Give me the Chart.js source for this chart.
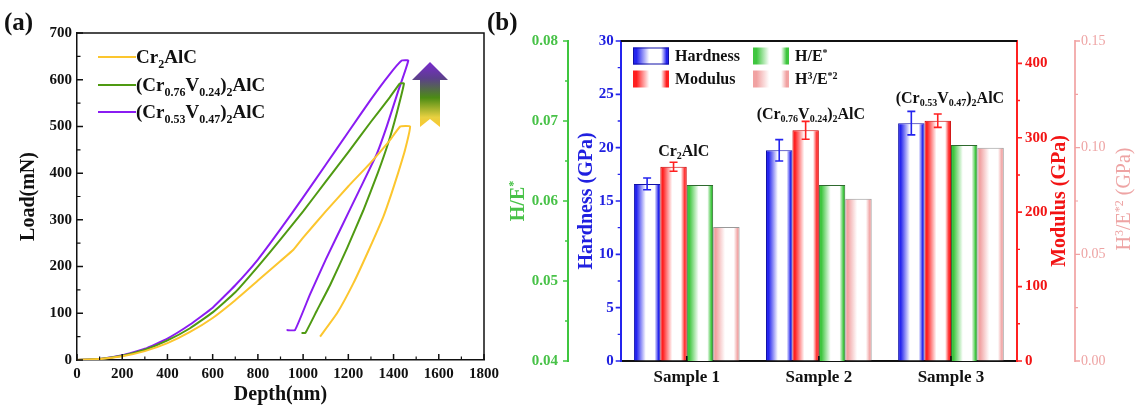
<!DOCTYPE html>
<html>
<head>
<meta charset="utf-8">
<script src="https://cdn.jsdelivr.net/npm/chart.js@4/dist/chart.umd.min.js"></script>
<style>
  html, body { margin: 0; padding: 0; background: #fff; }
  #wrap { position: relative; width: 1140px; height: 407px; overflow: hidden; }
  #chartA { position: absolute; left: 0; top: 0; }
  #chartB { position: absolute; left: 484px; top: 0; }
</style>
</head>
<body>
<div id="wrap">
  <canvas id="chartA" width="510" height="407"></canvas>
  <canvas id="chartB" width="656" height="407"></canvas>
</div>
<script>
// ---------- panel (a): load-depth curves ----------
const depthCr2 = [0, 100, 200, 300, 400, 500, 600, 700, 800, 900, 957, 1000, 1100, 1200, 1296, 1380, 1430, 1473, 1451, 1420, 1390, 1355, 1290, 1222, 1150, 1075];
const loadCr2  = [0, 2, 8, 19, 36, 60, 90, 128, 170, 212, 236, 262, 318, 372, 421, 468, 500, 500, 450, 400, 355, 307, 235, 164, 100, 50];

const depthV24 = [0, 100, 200, 300, 400, 500, 600, 700, 800, 900, 1000, 1100, 1200, 1300, 1380, 1428, 1446, 1415, 1380, 1330, 1266, 1195, 1119, 1060, 1010, 993];
const loadV24  = [0, 2, 9, 22, 42, 68, 102, 145, 200, 258, 318, 382, 445, 510, 560, 592, 592, 530, 470, 400, 320, 240, 160, 105, 58, 58];

const depthV47 = [0, 100, 200, 300, 400, 500, 600, 700, 800, 900, 1000, 1100, 1200, 1300, 1380, 1436, 1465, 1420, 1370, 1325, 1245, 1175, 1100, 1030, 964, 927];
const loadV47  = [0, 2, 10, 24, 46, 76, 112, 160, 215, 280, 348, 418, 488, 558, 610, 641, 641, 575, 500, 440, 360, 290, 215, 140, 64, 64];

const curveNames = ['Cr_{2}AlC', '(Cr_{0.76}V_{0.24})_{2}AlC', '(Cr_{0.53}V_{0.47})_{2}AlC'];
const depthTicks = [0, 200, 400, 600, 800, 1000, 1200, 1400, 1600, 1800];
const loadTicks = [0, 100, 200, 300, 400, 500, 600, 700];

// ---------- panel (b): mechanical properties ----------
const samples = ['Sample 1', 'Sample 2', 'Sample 3'];
const sampleNames = ['Cr_{2}AlC', '(Cr_{0.76}V_{0.24})_{2}AlC', '(Cr_{0.53}V_{0.47})_{2}AlC'];
const hardness = [16.6, 19.75, 22.3];
const hardnessErr = [0.55, 1.0, 1.1];
const modulus = [261, 310, 323];
const modulusErr = [6, 12, 9];
const hOverE = [0.0620, 0.0620, 0.0670];
const h3OverE2 = [0.0628, 0.0761, 0.1000];

const hardnessTicks = [0, 5, 10, 15, 20, 25, 30];
const modulusTicks = [0, 100, 200, 300, 400];
const hOverETicks = [0.04, 0.05, 0.06, 0.07, 0.08];
const h3Ticks = [0, 0.05, 0.10, 0.15];

// ---------- styles ----------
const serif = "'Liberation Serif', 'Times New Roman', serif";
const YELLOW = '#fcc62e', OLIVE = '#4f9a12', VIOLET = '#8a1cf2';
const BLUE = '#2424ee', RED = '#ff2020', GREEN = '#3fc63f', PINK = '#f1a2a2';
const BLUE_TXT = '#2020e0', RED_TXT = '#f21414', GREEN_TXT = '#48c248', PINK_TXT = '#eea4a4';

const pts = (xs, ys) => xs.map((x, i) => ({ x: x, y: ys[i] }));
const asTicks = (vals) => (scale) => { scale.ticks = vals.map(v => ({ value: v })); };
const fixSize = (w, h) => (scale) => {
  if (w != null) scale.width = w;
  if (h != null) scale.height = h;
  scale.paddingLeft = scale.paddingRight = scale.paddingTop = scale.paddingBottom = 0;
};
const midpoints = (vals) => vals.slice(1).map((v, i) => (v + vals[i]) / 2);

// text with _{sub} and ^{sup}
function parseRich(str) {
  const segs = [];
  let buf = '', i = 0;
  while (i < str.length) {
    const c = str[i];
    if ((c === '_' || c === '^') && str[i + 1] === '{') {
      if (buf) { segs.push({ t: buf, m: 0 }); buf = ''; }
      const end = str.indexOf('}', i);
      segs.push({ t: str.slice(i + 2, end), m: c === '_' ? 1 : -1 });
      i = end + 1;
    } else { buf += c; i++; }
  }
  if (buf) segs.push({ t: buf, m: 0 });
  return segs;
}

function richText(ctx, str, x, y, size, opt) {
  opt = opt || {};
  const weight = opt.weight || 'bold';
  const segs = parseRich(str);
  const fontFor = (sg) => `${weight} ${sg.m ? Math.round(size * 0.62) : size}px ${serif}`;
  let w = 0;
  segs.forEach(sg => { ctx.font = fontFor(sg); sg.w = ctx.measureText(sg.t).width; w += sg.w; });
  ctx.save();
  ctx.translate(x, y);
  if (opt.rotate) ctx.rotate(opt.rotate);
  let cx = opt.align === 'center' ? -w / 2 : 0;
  ctx.fillStyle = opt.color || '#111';
  ctx.textAlign = 'left';
  ctx.textBaseline = 'alphabetic';
  const base = size * 0.34;
  segs.forEach(sg => {
    ctx.font = fontFor(sg);
    const dy = sg.m === 1 ? size * 0.22 : (sg.m === -1 ? -size * 0.36 : 0);
    ctx.fillText(sg.t, cx, base + dy);
    cx += sg.w;
  });
  ctx.restore();
}

function tickMarks(ctx, scale, values, len, side, color, lw) {
  ctx.save();
  ctx.strokeStyle = color;
  ctx.lineWidth = lw;
  ctx.beginPath();
  values.forEach(v => {
    const p = scale.getPixelForValue(v);
    if (scale.isHorizontal()) {
      ctx.moveTo(p, scale.top); ctx.lineTo(p, scale.top + side * len);
    } else {
      const x0 = scale.position === 'left' ? scale.right : scale.left;
      ctx.moveTo(x0, p); ctx.lineTo(x0 + side * len, p);
    }
  });
  ctx.stroke();
  ctx.restore();
}

function barGradient(ctx, left, width, color) {
  const g = ctx.createLinearGradient(left, 0, left + width, 0);
  g.addColorStop(0, color);
  g.addColorStop(0.1, color);
  g.addColorStop(0.45, '#ffffff');
  g.addColorStop(0.78, '#ffffff');
  g.addColorStop(0.93, color);
  g.addColorStop(1, color);
  return g;
}

// ---------- panel (a) ----------
const panelA = {
  id: 'panelA',
  afterDraw(chart) {
    const { ctx, chartArea: a, scales: { x, y } } = chart;
    ctx.save();
    ctx.strokeStyle = '#111';
    ctx.lineWidth = 1.5;
    ctx.beginPath();
    ctx.moveTo(a.left, a.top); ctx.lineTo(a.right, a.top); ctx.lineTo(a.right, a.bottom);
    ctx.stroke();
    ctx.restore();

    tickMarks(ctx, x, depthTicks, 6, -1, '#111', 1.5);
    tickMarks(ctx, x, midpoints(depthTicks), 3.5, -1, '#111', 1.2);
    tickMarks(ctx, y, loadTicks, 6, 1, '#111', 1.5);
    tickMarks(ctx, y, midpoints(loadTicks), 3.5, 1, '#111', 1.2);

    richText(ctx, 'Load(mN)', 27, (a.top + a.bottom) / 2, 20, { align: 'center', rotate: -Math.PI / 2 });
    richText(ctx, 'Depth(nm)', (a.left + a.right) / 2, 393, 20, { align: 'center' });
    richText(ctx, '(a)', 4, 21, 25, {});

    // legend
    const colors = [YELLOW, OLIVE, VIOLET];
    const rows = [57, 85, 112];
    curveNames.forEach((name, i) => {
      ctx.save();
      ctx.strokeStyle = colors[i];
      ctx.lineWidth = 2;
      ctx.beginPath(); ctx.moveTo(98, rows[i]); ctx.lineTo(136, rows[i]); ctx.stroke();
      ctx.restore();
      richText(ctx, name, 136, rows[i], 19, {});
    });

    // gradient arrow
    const cx = 430, top = 62, headY = 80, bottom = 127;
    const g = ctx.createLinearGradient(0, top, 0, bottom);
    g.addColorStop(0, '#7a2ad0');
    g.addColorStop(0.25, '#5c3f8c');
    g.addColorStop(0.55, '#4c8c14');
    g.addColorStop(0.85, '#e8d040');
    g.addColorStop(1, '#fcc830');
    ctx.save();
    ctx.fillStyle = g;
    ctx.beginPath();
    ctx.moveTo(cx, top);
    ctx.lineTo(cx + 18, headY);
    ctx.lineTo(cx + 10, headY);
    ctx.lineTo(cx + 10, bottom);
    ctx.lineTo(cx, bottom - 8);
    ctx.lineTo(cx - 10, bottom);
    ctx.lineTo(cx - 10, headY);
    ctx.lineTo(cx - 18, headY);
    ctx.closePath();
    ctx.fill();
    ctx.restore();
  }
};

const lineSet = (label, xs, ys, color) => ({
  label: label, data: pts(xs, ys), borderColor: color, borderWidth: 2,
  pointRadius: 0, tension: 0.12, fill: false
});

new Chart(document.getElementById('chartA'), {
  type: 'line',
  data: {
    datasets: [
      lineSet('Cr2AlC', depthCr2, loadCr2, YELLOW),
      lineSet('(Cr0.76V0.24)2AlC', depthV24, loadV24, OLIVE),
      lineSet('(Cr0.53V0.47)2AlC', depthV47, loadV47, VIOLET)
    ]
  },
  options: {
    responsive: false,
    animation: false,
    events: [],
    layout: { padding: { top: 33, right: 26, left: 0, bottom: 0 } },
    plugins: { legend: { display: false }, tooltip: { enabled: false } },
    scales: {
      x: {
        type: 'linear', min: 0, max: 1800,
        afterBuildTicks: asTicks(depthTicks),
        afterFit: fixSize(null, 47),
        grid: { drawOnChartArea: false, drawTicks: false },
        border: { color: '#111', width: 1.5 },
        ticks: { font: { family: serif, weight: 'bold', size: 15 }, color: '#111', padding: 5, maxRotation: 0, autoSkip: false, callback: v => String(v) }
      },
      y: {
        type: 'linear', min: 0, max: 700,
        afterBuildTicks: asTicks(loadTicks),
        afterFit: fixSize(77, null),
        grid: { drawOnChartArea: false, drawTicks: false },
        border: { color: '#111', width: 1.5 },
        ticks: { font: { family: serif, weight: 'bold', size: 15 }, color: '#111', padding: 5, autoSkip: false, callback: v => String(v) }
      }
    }
  },
  plugins: [panelA]
});

// ---------- panel (b) ----------
const barColors = [BLUE, RED, GREEN, PINK];
const errors = [hardnessErr, modulusErr, null, null];
const errColors = [BLUE, RED];
const labelAt = [19.75, 23.2, 24.7];   // annotation heights on the hardness axis
const labelShift = [-3, -8, -1];

const panelB = {
  id: 'panelB',
  beforeDatasetsDraw(chart) {
    const ctx = chart.ctx;
    chart.data.datasets.forEach((ds, di) => {
      chart.getDatasetMeta(di).data.forEach(el => {
        const p = el.getProps(['x', 'width'], true);
        el.options = Object.assign({}, el.options, {
          backgroundColor: barGradient(ctx, p.x - p.width / 2, p.width, barColors[di])
        });
      });
    });
  },
  afterDatasetsDraw(chart) {
    const ctx = chart.ctx;
    [0, 1].forEach(di => {
      const ds = chart.data.datasets[di];
      const sc = chart.scales[ds.yAxisID];
      ctx.save();
      ctx.strokeStyle = errColors[di];
      ctx.lineWidth = 1.6;
      chart.getDatasetMeta(di).data.forEach((el, i) => {
        const yt = sc.getPixelForValue(ds.data[i] + errors[di][i]);
        const yb = sc.getPixelForValue(ds.data[i] - errors[di][i]);
        ctx.beginPath();
        ctx.moveTo(el.x, yt); ctx.lineTo(el.x, yb);
        ctx.moveTo(el.x - 4, yt); ctx.lineTo(el.x + 4, yt);
        ctx.moveTo(el.x - 4, yb); ctx.lineTo(el.x + 4, yb);
        ctx.stroke();
      });
      ctx.restore();
    });
  },
  afterDraw(chart) {
    const { ctx, chartArea: a, scales: s } = chart;
    ctx.save();
    ctx.strokeStyle = '#111';
    ctx.lineWidth = 2;
    ctx.beginPath(); ctx.moveTo(a.left, a.top); ctx.lineTo(a.right, a.top); ctx.stroke();
    ctx.restore();

    tickMarks(ctx, s.yH, hardnessTicks, 5, -1, BLUE, 1.6);
    tickMarks(ctx, s.yH, midpoints(hardnessTicks), 3, -1, BLUE, 1.4);
    tickMarks(ctx, s.yHE, hOverETicks, 5, -1, GREEN, 1.6);
    tickMarks(ctx, s.yHE, midpoints(hOverETicks), 3, -1, GREEN, 1.4);
    tickMarks(ctx, s.yM, modulusTicks, 5, 1, RED, 1.6);
    tickMarks(ctx, s.yM, midpoints(modulusTicks), 3, 1, RED, 1.4);
    tickMarks(ctx, s.yH3, h3Ticks, 5, 1, PINK, 1.4);
    tickMarks(ctx, s.yH3, midpoints(h3Ticks), 3, 1, PINK, 1.2);
    tickMarks(ctx, s.x, [0, 1, 2], 5, -1, '#111', 1.6);

    const midY = (a.top + a.bottom) / 2;
    richText(ctx, 'H/E^{*}', 33, midY, 20, { align: 'center', rotate: -Math.PI / 2, color: GREEN_TXT });
    richText(ctx, 'Hardness (GPa)', 101, midY, 20, { align: 'center', rotate: -Math.PI / 2, color: BLUE_TXT });
    richText(ctx, 'Modulus (GPa)', 574, midY, 20, { align: 'center', rotate: -Math.PI / 2, color: RED_TXT });
    richText(ctx, 'H^{3}/E^{*2} (GPa)', 639, midY - 2, 20, { align: 'center', rotate: -Math.PI / 2, color: PINK_TXT, weight: 'normal' });
    richText(ctx, '(b)', 3, 21, 25, {});

    // legend
    const legend = [
      { text: 'Hardness', x: 149, y: 56, c: 0 },
      { text: 'Modulus', x: 149, y: 79, c: 1 },
      { text: 'H/E^{*}', x: 269, y: 56, c: 2 },
      { text: 'H^{3}/E^{*2}', x: 269, y: 79, c: 3 }
    ];
    legend.forEach(l => {
      ctx.save();
      ctx.fillStyle = barGradient(ctx, l.x, 36, barColors[l.c]);
      ctx.fillRect(l.x, l.y - 8.5, 36, 17);
      if (l.c === 0) {
        ctx.strokeStyle = '#1010a8'; ctx.lineWidth = 1;
        ctx.strokeRect(l.x + 0.5, l.y - 8, 35, 16);
      }
      ctx.restore();
      richText(ctx, l.text, l.x + 42, l.y, 16, {});
    });

    // sample composition labels
    sampleNames.forEach((n, i) => {
      const x = s.x.getPixelForValue(i) + labelShift[i];
      const y = s.yH.getPixelForValue(labelAt[i]);
      richText(ctx, n, x, y, 16, { align: 'center' });
    });
  }
};

const barSet = (label, data, axis, i, edge) => ({
  label: label, data: data, yAxisID: axis,
  backgroundColor: () => barColors[i],
  borderColor: edge, borderWidth: 1,
  categoryPercentage: 0.8, barPercentage: 1.0
});

const sideAxis = (min, max, vals, pos, weight, width, color, txt, pad, fmt, bold, size) => ({
  type: 'linear', position: pos, weight: weight, min: min, max: max,
  afterBuildTicks: asTicks(vals),
  afterFit: fixSize(width, null),
  grid: { drawOnChartArea: false, drawTicks: false },
  border: { color: color, width: 2 },
  ticks: { font: { family: serif, weight: bold ? 'bold' : 'normal', size: size }, color: txt, padding: pad, autoSkip: false, callback: fmt }
});

new Chart(document.getElementById('chartB'), {
  type: 'bar',
  data: {
    labels: samples,
    datasets: [
      barSet('Hardness', hardness, 'yH', 0, '#1010a8'),
      barSet('Modulus', modulus, 'yM', 1, '#cc0000'),
      barSet('H/E*', hOverE, 'yHE', 2, '#2e6a2e'),
      barSet('H3/E*2', h3OverE2, 'yH3', 3, '#999999')
    ]
  },
  options: {
    responsive: false,
    animation: false,
    events: [],
    layout: { padding: { top: 41, right: 0, left: 0, bottom: 0 } },
    plugins: { legend: { display: false }, tooltip: { enabled: false } },
    scales: {
      x: {
        type: 'category', offset: true,
        afterFit: fixSize(null, 46),
        grid: { drawOnChartArea: false, drawTicks: false },
        border: { color: '#111', width: 2 },
        ticks: { font: { family: serif, weight: 'bold', size: 17 }, color: '#111', padding: 6, maxRotation: 0, autoSkip: false }
      },
      yHE: sideAxis(0.04, 0.08, hOverETicks, 'left', 1, 84, GREEN, GREEN_TXT, 10, v => v.toFixed(2), true, 15),
      yH: sideAxis(0, 30, hardnessTicks, 'left', 0, 52.7, BLUE, BLUE_TXT, 7, v => String(v), true, 15),
      yM: sideAxis(0, 430, modulusTicks, 'right', 0, 58, RED, RED_TXT, 8, v => String(v), true, 15),
      yH3: sideAxis(0, 0.15, h3Ticks, 'right', 1, 65, '#f3b0b0', PINK_TXT, 6, v => v.toFixed(2), false, 14)
    }
  },
  plugins: [panelB]
});
</script>
</body>
</html>
